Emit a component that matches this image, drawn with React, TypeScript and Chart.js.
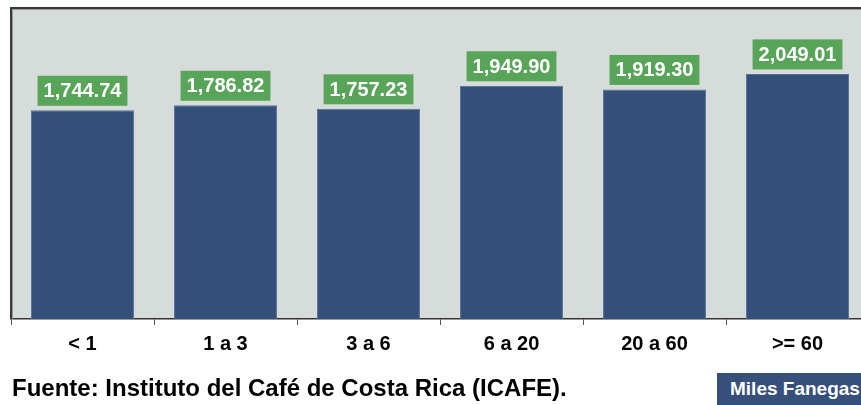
import React, { useEffect, useRef } from "react";
import { Chart, registerables } from "chart.js";

Chart.register(...registerables);

const categories = ["< 1", "1 a 3", "3 a 6", "6 a 20", "20 a 60", ">= 60"];
const values = [1744.74, 1786.82, 1757.23, 1949.9, 1919.3, 2049.01];
const yMax = 2600;
const sourceText = "Fuente: Instituto del Café de Costa Rica (ICAFE).";
const unitText = "Miles Fanegas";

const FONT = "'Liberation Sans', Arial, sans-serif";

const fmt = (v: number) =>
  v.toLocaleString("en-US", { minimumFractionDigits: 2, maximumFractionDigits: 2 });

const decorPlugin = {
  id: "decor",
  beforeDraw(chart: any) {
    const { ctx, chartArea } = chart;
    ctx.save();
    ctx.fillStyle = "#d6dcd9";
    ctx.fillRect(chartArea.left, chartArea.top, chartArea.right - chartArea.left, chartArea.bottom - chartArea.top);
    ctx.restore();
  },
  afterDraw(chart: any) {
    const { ctx, chartArea } = chart;
    ctx.save();
    ctx.strokeStyle = "#3a3a3a";
    ctx.lineWidth = 2;
    ctx.beginPath();
    ctx.moveTo(chartArea.left, chartArea.bottom);
    ctx.lineTo(chartArea.left, chartArea.top);
    ctx.lineTo(chartArea.right, chartArea.top);
    ctx.lineTo(chartArea.right, chartArea.bottom);
    ctx.stroke();
    ctx.strokeStyle = "#999";
    ctx.lineWidth = 1;
    ctx.beginPath();
    ctx.moveTo(chartArea.left + 1.5, chartArea.bottom);
    ctx.lineTo(chartArea.left + 1.5, chartArea.top + 1.5);
    ctx.lineTo(chartArea.right, chartArea.top + 1.5);
    ctx.stroke();

    const meta = chart.getDatasetMeta(0);
    ctx.font = `bold 20px ${FONT}`;
    ctx.textAlign = "center";
    ctx.textBaseline = "middle";
    meta.data.forEach((bar: any, i: number) => {
      const text = fmt(values[i]);
      const w = ctx.measureText(text).width + 12;
      const h = 30;
      const x = bar.x;
      const bottom = bar.y - 4.5;
      ctx.fillStyle = "#58a458";
      ctx.fillRect(x - w / 2, bottom - h, w, h);
      ctx.fillStyle = "#ffffff";
      ctx.fillText(text, x, bottom - h / 2 + 1);
    });
    ctx.restore();
  },
};

export default function App() {
  const ref = useRef<HTMLCanvasElement>(null);
  useEffect(() => {
    document.body.style.margin = "0";
    document.body.style.overflow = "hidden";
    const chart = new Chart(ref.current!, {
      type: "bar",
      data: {
        labels: categories,
        datasets: [
          {
            data: values,
            backgroundColor: "#34507a",
            borderColor: "#5a7099",
            borderWidth: 1,
            categoryPercentage: 1,
            barPercentage: 0.72,
          },
        ],
      },
      options: {
        animation: false,
        responsive: false,
        maintainAspectRatio: false,
        layout: { padding: { left: 11, right: 0, top: 8, bottom: 0 } },
        plugins: { legend: { display: false }, tooltip: { enabled: false } },
        scales: {
          x: {
            grid: {
              display: true,
              offset: true,
              drawOnChartArea: false,
              drawTicks: true,
              tickLength: 6,
              color: "#555",
            },
            border: { display: true, color: "#333", width: 1.5 },
            ticks: {
              color: "#000",
              font: { family: FONT, size: 20, weight: "bold" },
              padding: 7,
            },
            afterFit: (scale: any) => {
              scale.height = 86;
            },
          },
          y: {
            display: false,
            min: 0,
            max: yMax,
          },
        },
      },
      plugins: [decorPlugin],
    });
    return () => chart.destroy();
  }, []);

  return (
    <div style={{ position: "fixed", left: 0, top: 0, width: 861, height: 405, overflow: "hidden", background: "#fff" }}>
      <canvas ref={ref} width={869} height={405} style={{ position: "absolute", left: 0, top: 0 }} />
      <div
        style={{
          position: "absolute",
          left: 12,
          top: 374,
          fontFamily: FONT,
          fontWeight: "bold",
          fontSize: 24,
          color: "#000",
          whiteSpace: "nowrap",
          lineHeight: "28px",
        }}
      >
        {sourceText}
      </div>
      <div
        style={{
          position: "absolute",
          left: 717,
          top: 373,
          width: 170,
          height: 32,
          background: "#36507b",
          color: "#fff",
          fontFamily: FONT,
          fontWeight: "bold",
          fontSize: 19,
          lineHeight: "32px",
          paddingLeft: 13,
          boxSizing: "border-box",
          whiteSpace: "nowrap",
        }}
      >
        {unitText}
      </div>
    </div>
  );
}
